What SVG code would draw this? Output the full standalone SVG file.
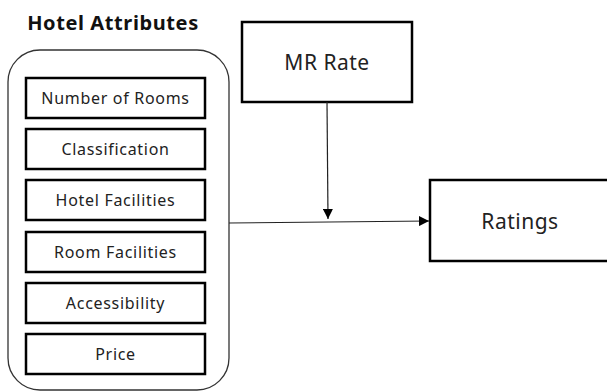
<svg xmlns="http://www.w3.org/2000/svg" width="607" height="392" viewBox="0 0 607 392">
<defs>
<style>
.t{font-family:"Noto Sans","Open Sans","DejaVu Sans",sans-serif;fill:#222;text-anchor:middle;dominant-baseline:central}
.box{fill:#fff;stroke:#000;stroke-width:2.5}
.in{font-size:16px;letter-spacing:0.7px}
.big{font-size:21px;letter-spacing:0.5px}
.ln{stroke:#222;stroke-width:1.2;fill:none}
</style>
<marker id="ah" viewBox="0 0 10 10" refX="10" refY="5" markerWidth="10" markerHeight="10" markerUnits="userSpaceOnUse" orient="auto">
<path d="M0,0 L10,5 L0,10 z" fill="#000"/>
</marker>
</defs>
<rect width="607" height="392" fill="#fff"/>
<text x="113" y="22" class="t" style="font-size:20px;font-weight:bold;fill:#111;letter-spacing:0.6px">Hotel Attributes</text>
<g id="hotel-attributes">
<rect x="8" y="50" width="221" height="340" rx="32" ry="32" fill="#fff" stroke="#333" stroke-width="1.3"/>
</g>
<g id="n1"><rect class="box" x="26" y="78" width="179" height="40"/><text class="t in" x="115.5" y="98">Number of Rooms</text></g>
<g id="n2"><rect class="box" x="26" y="129" width="179" height="40"/><text class="t in" x="115.5" y="149">Classification</text></g>
<g id="n3"><rect class="box" x="26" y="180" width="179" height="40"/><text class="t in" x="115.5" y="200">Hotel Facilities</text></g>
<g id="n4"><rect class="box" x="26" y="232" width="179" height="40"/><text class="t in" x="115.5" y="252">Room Facilities</text></g>
<g id="n5"><rect class="box" x="26" y="283" width="179" height="40"/><text class="t in" x="115.5" y="303">Accessibility</text></g>
<g id="n6"><rect class="box" x="26" y="334" width="179" height="40"/><text class="t in" x="115.5" y="354">Price</text></g>
<g id="mr-rate"><rect class="box" x="242" y="22" width="170" height="80"/><text class="t big" x="327" y="62">MR Rate</text></g>
<g id="ratings"><rect class="box" x="430" y="180" width="180" height="81"/><text class="t big" x="520" y="221">Ratings</text></g>
<g id="connectors">
<line class="ln" x1="327" y1="102" x2="328" y2="219" marker-end="url(#ah)"/>
<line class="ln" x1="229" y1="223" x2="429" y2="221" marker-end="url(#ah)"/>
</g>
</svg>
